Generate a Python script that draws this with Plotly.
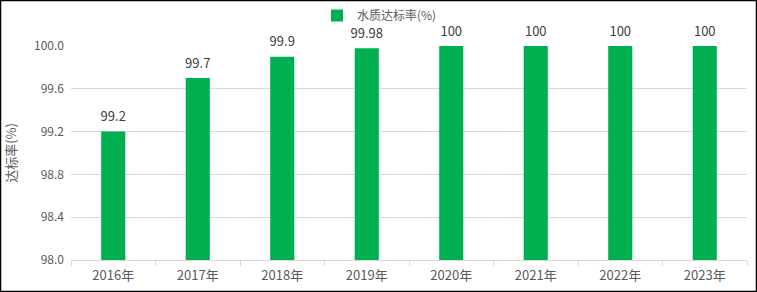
import plotly.graph_objects as go

years = ["2016年", "2017年", "2018年", "2019年", "2020年", "2021年", "2022年", "2023年"]
rates = [99.2, 99.7, 99.9, 99.98, 100, 100, 100, 100]
labels = ["99.2", "99.7", "99.9", "99.98", "100", "100", "100", "100"]
y_ticks = [98.0, 98.4, 98.8, 99.2, 99.6, 100.0]

W, H = 757, 292
L, R, T, B = 71, 10, 46, 32
pw, ph = W - L - R, H - T - B

fig = go.Figure()
fig.add_trace(go.Bar(
    x=years, y=rates, name="水质达标率(%)",
    marker=dict(color="#00b050", line=dict(width=0)),
    width=0.285,
))
fig.add_trace(go.Scatter(
    x=years, y=rates, mode="markers+text", text=labels, textposition="top center",
    marker=dict(size=10, color="rgba(0,0,0,0)"),
    cliponaxis=False, showlegend=False, hoverinfo="skip",
    textfont=dict(size=13, color="#404040"),
))
fig.update_layout(
    width=W, height=H,
    margin=dict(l=L, r=R, t=T, b=B, autoexpand=False),
    paper_bgcolor="white", plot_bgcolor="white",
    font=dict(family="Noto Sans CJK SC, Microsoft YaHei, sans-serif", size=12, color="#595959"),
    showlegend=True,
    legend=dict(orientation="h", x=(317 - L) / pw, xanchor="left",
                y=1 + (T - 1) / ph, yanchor="top", yref="paper",
                font=dict(size=12, color="#595959"),
                itemwidth=30, bgcolor="rgba(0,0,0,0)"),
    xaxis=dict(showline=True, linecolor="#d9d9d9", linewidth=1,
               ticks="outside", tickson="boundaries", ticklen=5, tickcolor="#d9d9d9",
               ticklabelstandoff=3,
               tickfont=dict(size=13, color="#595959"), showgrid=False),
    yaxis=dict(range=[98.0, 100.0], tickvals=y_ticks, ticktext=[f"{v:.1f}" for v in y_ticks],
               showgrid=True, gridcolor="#d9d9d9", gridwidth=1, zeroline=False,
               ticklabelstandoff=6,
               tickfont=dict(size=12, color="#595959"),
               title=dict(text="达标率(%)", font=dict(size=13, color="#595959"), standoff=14)),
)
# outer border
fig.add_shape(type="rect", xref="paper", yref="paper",
              x0=(-L + 0.5) / pw, x1=(pw + R - 0.5) / pw,
              y0=(-B + 0.5) / ph, y1=(ph + T - 0.5) / ph,
              line=dict(color="black", width=1.5), fillcolor="rgba(0,0,0,0)", layer="above")
fig.write_html("out.html")
